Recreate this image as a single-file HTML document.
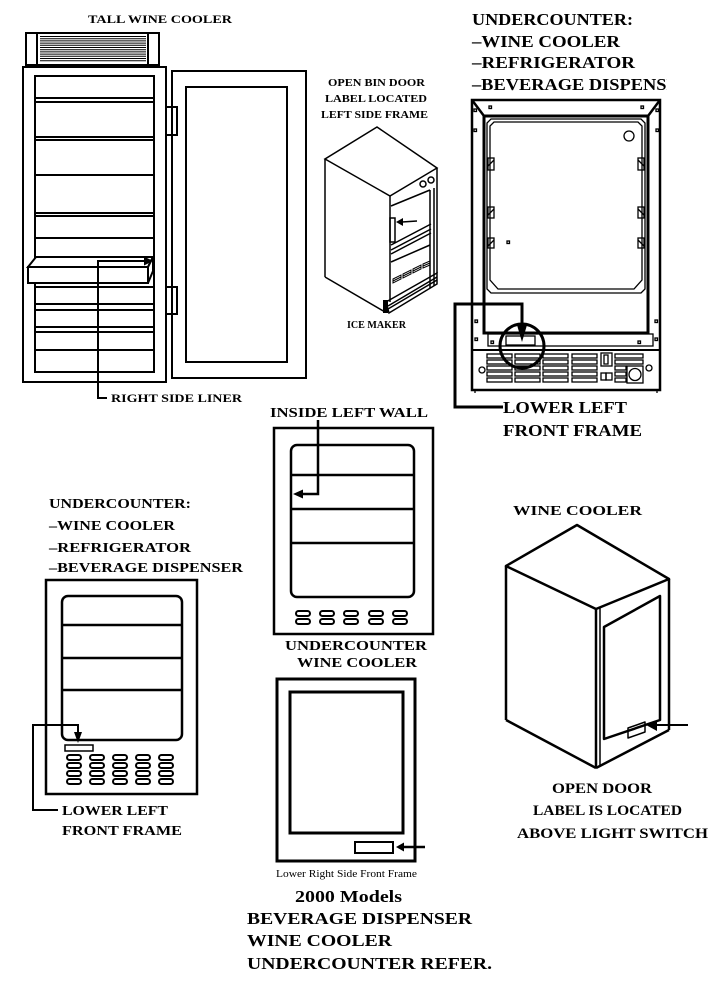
<!DOCTYPE html>
<html><head><meta charset="utf-8"><style>
html,body{margin:0;padding:0;background:#fff;}
svg{display:block;}
text{font-family:"Liberation Serif","DejaVu Serif",serif;font-weight:bold;fill:#000;}
</style></head><body>
<svg width="727" height="986" viewBox="0 0 727 986" xmlns="http://www.w3.org/2000/svg">
<defs><clipPath id="cr"><rect x="0" y="0" width="667" height="986"/></clipPath></defs>
<rect width="727" height="986" fill="#fff"/>
<g fill="none" stroke="#000" stroke-width="2">
<!-- TALL WINE COOLER -->
<rect x="26" y="33" width="133" height="32"/>
<line x1="37" y1="33" x2="37" y2="65"/><line x1="148" y1="33" x2="148" y2="65"/>
<g stroke-width="1">
<line x1="40" y1="36.5" x2="146" y2="36.5"/><line x1="40" y1="38.7" x2="146" y2="38.7"/><line x1="40" y1="40.9" x2="146" y2="40.9"/><line x1="40" y1="43.1" x2="146" y2="43.1"/><line x1="40" y1="45.3" x2="146" y2="45.3"/><line x1="40" y1="47.5" x2="146" y2="47.5"/><line x1="40" y1="49.7" x2="146" y2="49.7"/><line x1="40" y1="51.9" x2="146" y2="51.9"/><line x1="40" y1="54.1" x2="146" y2="54.1"/><line x1="40" y1="56.3" x2="146" y2="56.3"/><line x1="40" y1="58.5" x2="146" y2="58.5"/><line x1="40" y1="60.7" x2="146" y2="60.7"/>
</g>
<rect x="23" y="67" width="143" height="315"/>
<rect x="35" y="76" width="119" height="296"/>
<g>
<line x1="35" y1="98" x2="154" y2="98"/><line x1="35" y1="102" x2="154" y2="102"/>
<line x1="35" y1="137" x2="154" y2="137"/><line x1="35" y1="140" x2="154" y2="140"/>
<line x1="35" y1="175" x2="154" y2="175"/>
<line x1="35" y1="213" x2="154" y2="213"/><line x1="35" y1="216" x2="154" y2="216"/>
<line x1="35" y1="238" x2="154" y2="238"/>
<line x1="35" y1="287" x2="154" y2="287"/>
<line x1="35" y1="304" x2="154" y2="304"/><line x1="35" y1="310" x2="154" y2="310"/>
<line x1="35" y1="327" x2="154" y2="327"/><line x1="35" y1="332" x2="154" y2="332"/>
<line x1="35" y1="350" x2="154" y2="350"/>
</g>
<polygon points="28,267 148,267 148,283 28,283" fill="#fff"/>
<polygon points="28,267 36,257 153,257 148,267" fill="#fff"/>
<polygon points="148,267 153,257 153,271 148,283" fill="#fff"/>
<rect x="166" y="107" width="11" height="28" fill="#fff"/>
<rect x="166" y="287" width="11" height="27" fill="#fff"/>
<rect x="172" y="71" width="134" height="307"/>
<rect x="186" y="87" width="101" height="275"/>
<polyline points="107,398 98,398 98,261 145,261"/>
</g>
<polygon points="144,256.5 153,261 144,265.5" fill="#000"/>

<!-- ICE MAKER -->
<g fill="none" stroke="#000" stroke-width="1.5">
<polygon points="377,127 325,159 390,196 437,168"/>
<line x1="325" y1="159" x2="325" y2="277"/>
<line x1="325" y1="277" x2="385" y2="312"/>
<line x1="390" y1="196" x2="390" y2="302"/>
<line x1="437" y1="168" x2="437" y2="273"/>
<circle cx="423" cy="184" r="3"/><circle cx="431" cy="180" r="3"/>
<line x1="391" y1="206" x2="430" y2="190"/>
<line x1="430" y1="190" x2="430" y2="288"/><line x1="434" y1="188" x2="434" y2="286"/>
<rect x="390" y="218" width="5" height="24"/>
<line x1="417" y1="221" x2="402" y2="222"/>
<line x1="391" y1="245" x2="431" y2="224"/><line x1="391" y1="250" x2="431" y2="229"/><line x1="391" y1="254" x2="431" y2="233"/>
<line x1="391" y1="262" x2="430" y2="245"/>
<g stroke-width="1">
<polygon points="393,279 401,275 401,279 393,283"/>
<polygon points="403,274 411,270 411,274 403,278"/>
<polygon points="413,269 421,265 421,269 413,273"/>
<polygon points="423,264 430,261 430,265 423,268"/>
<line x1="393" y1="281" x2="401" y2="277"/><line x1="403" y1="276" x2="411" y2="272"/><line x1="413" y1="271" x2="421" y2="267"/><line x1="423" y1="266" x2="430" y2="263"/>
</g>
<polygon points="386,302 437,273 437,284 389,313"/>
<line x1="388" y1="306" x2="437" y2="277"/><line x1="388" y1="309" x2="437" y2="280"/>
</g>
<polygon points="403,218 396,222 403,226" fill="#000"/>
<rect x="383" y="300" width="5" height="13" fill="#000"/>

<!-- RIGHT UNDERCOUNTER -->
<g fill="none" stroke="#000" stroke-width="2.5">
<rect x="472" y="100" width="188" height="290"/>
<line x1="472" y1="100" x2="484" y2="116"/><line x1="660" y1="100" x2="648" y2="116"/>
<polygon points="484,333 484,116 648,116 648,333" stroke-width="3"/>
<line x1="472" y1="350" x2="660" y2="350" stroke-width="2"/>
</g>
<g fill="none" stroke="#000" stroke-width="1.3">
<polygon points="491,119 641,119 645,123 645,289 641,293 491,293 487,289 487,123"/>
<polygon points="494,122 638,122 642,126 642,280 634,289 498,289 490,280 490,126"/>
<rect x="488" y="158" width="6" height="12"/><line x1="488" y1="166" x2="494" y2="160"/>
<rect x="488" y="207" width="6" height="11"/><line x1="488" y1="215" x2="494" y2="209"/>
<rect x="488" y="238" width="6" height="10"/><line x1="488" y1="246" x2="494" y2="240"/>
<rect x="638" y="158" width="6" height="12"/><line x1="638" y1="160" x2="644" y2="166"/>
<rect x="638" y="207" width="6" height="11"/><line x1="638" y1="209" x2="644" y2="215"/>
<rect x="638" y="238" width="6" height="10"/><line x1="638" y1="240" x2="644" y2="246"/>
<circle cx="629" cy="136" r="5"/>
<rect x="489" y="106" width="2.5" height="2.5"/><rect x="641" y="106" width="2.5" height="2.5"/>
<rect x="474" y="109" width="2.5" height="2.5"/><rect x="474" y="129" width="2.5" height="2.5"/>
<rect x="656" y="109" width="2.5" height="2.5"/><rect x="656" y="129" width="2.5" height="2.5"/>
<rect x="507" y="241" width="2.5" height="2.5"/>
<rect x="475" y="320" width="2.5" height="2.5"/><rect x="475" y="338" width="2.5" height="2.5"/>
<rect x="655" y="320" width="2.5" height="2.5"/><rect x="655" y="338" width="2.5" height="2.5"/>
<rect x="491" y="341" width="2.5" height="2.5"/><rect x="638" y="341" width="2.5" height="2.5"/>
<rect x="488" y="334" width="165" height="12"/>
<rect x="506" y="336" width="29" height="9"/>
<g>
<rect x="487" y="354" width="25" height="4"/><rect x="487" y="360" width="25" height="4"/><rect x="487" y="366" width="25" height="4"/><rect x="487" y="372" width="25" height="4"/><rect x="487" y="378" width="25" height="4"/>
<rect x="515" y="354" width="25" height="4"/><rect x="515" y="360" width="25" height="4"/><rect x="515" y="366" width="25" height="4"/><rect x="515" y="372" width="25" height="4"/><rect x="515" y="378" width="25" height="4"/>
<rect x="543" y="354" width="25" height="4"/><rect x="543" y="360" width="25" height="4"/><rect x="543" y="366" width="25" height="4"/><rect x="543" y="372" width="25" height="4"/><rect x="543" y="378" width="25" height="4"/>
<rect x="572" y="354" width="25" height="4"/><rect x="572" y="360" width="25" height="4"/><rect x="572" y="366" width="25" height="4"/><rect x="572" y="372" width="25" height="4"/><rect x="572" y="378" width="25" height="4"/>
</g>
<rect x="601" y="353" width="11" height="13"/><path d="M604,355 L608,355 L608,364 L604,364 Z"/>
<rect x="601" y="373" width="5" height="7"/><rect x="606" y="373" width="6" height="7"/>
<rect x="615" y="354" width="28" height="4"/><rect x="615" y="360" width="28" height="4"/>
<rect x="615" y="366" width="11" height="4"/><rect x="615" y="372" width="11" height="4"/><rect x="615" y="378" width="11" height="4"/>
<rect x="627" y="366" width="16" height="17"/><circle cx="635" cy="374.5" r="6"/>
<circle cx="482" cy="370" r="3"/><circle cx="649" cy="368" r="3"/>
<line x1="475" y1="390" x2="475" y2="393"/><line x1="657" y1="390" x2="657" y2="393"/>
</g>
<circle cx="522" cy="346" r="22" fill="none" stroke="#000" stroke-width="3"/>
<polyline points="503,407 455,407 455,304 522,304 522,326" fill="none" stroke="#000" stroke-width="3"/>
<polygon points="517,325 527,325 522,342" fill="#000"/>

<!-- MIDDLE UNDERCOUNTER WINE COOLER -->
<g fill="none" stroke="#000" stroke-width="2.5">
<rect x="274" y="428" width="159" height="206"/>
<rect x="291" y="445" width="123" height="152" rx="6"/>
<line x1="291" y1="475" x2="414" y2="475"/><line x1="291" y1="509" x2="414" y2="509"/><line x1="291" y1="543" x2="414" y2="543"/>
<polyline points="318,420 318,494 302,494" stroke-width="2.5"/>
<g stroke-width="2">
<rect x="296" y="611" width="14" height="5" rx="2.5"/><rect x="296" y="619" width="14" height="5" rx="2.5"/>
<rect x="320" y="611" width="14" height="5" rx="2.5"/><rect x="320" y="619" width="14" height="5" rx="2.5"/>
<rect x="344" y="611" width="14" height="5" rx="2.5"/><rect x="344" y="619" width="14" height="5" rx="2.5"/>
<rect x="369" y="611" width="14" height="5" rx="2.5"/><rect x="369" y="619" width="14" height="5" rx="2.5"/>
<rect x="393" y="611" width="14" height="5" rx="2.5"/><rect x="393" y="619" width="14" height="5" rx="2.5"/>
</g>
</g>
<polygon points="303,489.5 293,494 303,498.5" fill="#000"/>

<!-- LEFT BOTTOM UNDERCOUNTER -->
<g fill="none" stroke="#000" stroke-width="2.5">
<rect x="46" y="580" width="151" height="214"/>
<rect x="62" y="596" width="120" height="144" rx="6"/>
<line x1="62" y1="625" x2="182" y2="625"/><line x1="62" y1="658" x2="182" y2="658"/><line x1="62" y1="690" x2="182" y2="690"/>
<rect x="65" y="745" width="28" height="6" stroke-width="1.5"/>
<polyline points="58,810 33,810 33,725 78,725 78,733" stroke-width="2"/>
<g stroke-width="2">
<rect x="67" y="755" width="14" height="5" rx="2.5"/><rect x="67" y="763" width="14" height="5" rx="2.5"/><rect x="67" y="771" width="14" height="5" rx="2.5"/><rect x="67" y="779" width="14" height="5" rx="2.5"/>
<rect x="90" y="755" width="14" height="5" rx="2.5"/><rect x="90" y="763" width="14" height="5" rx="2.5"/><rect x="90" y="771" width="14" height="5" rx="2.5"/><rect x="90" y="779" width="14" height="5" rx="2.5"/>
<rect x="113" y="755" width="14" height="5" rx="2.5"/><rect x="113" y="763" width="14" height="5" rx="2.5"/><rect x="113" y="771" width="14" height="5" rx="2.5"/><rect x="113" y="779" width="14" height="5" rx="2.5"/>
<rect x="136" y="755" width="14" height="5" rx="2.5"/><rect x="136" y="763" width="14" height="5" rx="2.5"/><rect x="136" y="771" width="14" height="5" rx="2.5"/><rect x="136" y="779" width="14" height="5" rx="2.5"/>
<rect x="159" y="755" width="14" height="5" rx="2.5"/><rect x="159" y="763" width="14" height="5" rx="2.5"/><rect x="159" y="771" width="14" height="5" rx="2.5"/><rect x="159" y="779" width="14" height="5" rx="2.5"/>
</g>
</g>
<polygon points="74,732 82,732 78,743" fill="#000"/>

<!-- WINE COOLER ISO -->
<g fill="none" stroke="#000" stroke-width="2.5" stroke-linejoin="round">
<polygon points="577,525 506,566 596,609 669,579"/>
<line x1="506" y1="566" x2="506" y2="720"/>
<line x1="506" y1="720" x2="596" y2="768"/>
<line x1="596" y1="609" x2="596" y2="768"/>
<line x1="600" y1="608" x2="600" y2="766" stroke-width="1.5"/>
<line x1="669" y1="579" x2="669" y2="730"/>
<line x1="596" y1="768" x2="669" y2="730"/>
<polygon points="604,627 660,596 660,720 604,739"/>
<polygon points="628,728 645,722 645,732 628,738" stroke-width="1.5"/>
<line x1="688" y1="725" x2="656" y2="725" stroke-width="2"/>
</g>
<polygon points="657,720 647,725.5 657,731" fill="#000"/>

<!-- BOTTOM CENTER 2000 MODELS -->
<g fill="none" stroke="#000" stroke-width="3">
<rect x="277" y="679" width="138" height="182"/>
<rect x="290" y="692" width="113" height="141"/>
<rect x="355" y="842" width="38" height="11" stroke-width="2"/>
<line x1="425" y1="847" x2="403" y2="847" stroke-width="2.5"/>
</g>
<polygon points="404,842.5 396,847 404,851.5" fill="#000"/>

<!-- TEXT -->
<text x="88" y="23" font-size="12" textLength="144" lengthAdjust="spacingAndGlyphs">TALL WINE COOLER</text>
<text x="111" y="402" font-size="12" textLength="131" lengthAdjust="spacingAndGlyphs">RIGHT SIDE LINER</text>
<text x="328" y="86" font-size="11" textLength="97" lengthAdjust="spacingAndGlyphs">OPEN BIN DOOR</text>
<text x="325" y="102" font-size="11" textLength="102" lengthAdjust="spacingAndGlyphs">LABEL LOCATED</text>
<text x="321" y="118" font-size="11" textLength="107" lengthAdjust="spacingAndGlyphs">LEFT SIDE FRAME</text>
<text x="347" y="328" font-size="11" textLength="59" lengthAdjust="spacingAndGlyphs">ICE MAKER</text>

<text x="472" y="25" font-size="17" textLength="161" lengthAdjust="spacingAndGlyphs">UNDERCOUNTER:</text>
<text x="472" y="47" font-size="17" textLength="148" lengthAdjust="spacingAndGlyphs">–WINE COOLER</text>
<text x="472" y="68" font-size="17" textLength="163" lengthAdjust="spacingAndGlyphs">–REFRIGERATOR</text>
<text x="472" y="90" font-size="17" textLength="220" lengthAdjust="spacingAndGlyphs" clip-path="url(#cr)">–BEVERAGE DISPENSER</text>
<text x="503" y="413" font-size="17" textLength="124" lengthAdjust="spacingAndGlyphs">LOWER LEFT</text>
<text x="503" y="436" font-size="17" textLength="139" lengthAdjust="spacingAndGlyphs">FRONT FRAME</text>

<text x="270" y="417" font-size="14" textLength="158" lengthAdjust="spacingAndGlyphs">INSIDE LEFT WALL</text>
<text x="285" y="650" font-size="14" textLength="142" lengthAdjust="spacingAndGlyphs">UNDERCOUNTER</text>
<text x="297" y="667" font-size="14" textLength="120" lengthAdjust="spacingAndGlyphs">WINE COOLER</text>

<text x="49" y="508" font-size="14" textLength="142" lengthAdjust="spacingAndGlyphs">UNDERCOUNTER:</text>
<text x="49" y="530" font-size="14" textLength="126" lengthAdjust="spacingAndGlyphs">–WINE COOLER</text>
<text x="49" y="552" font-size="14" textLength="142" lengthAdjust="spacingAndGlyphs">–REFRIGERATOR</text>
<text x="49" y="572" font-size="14" textLength="194" lengthAdjust="spacingAndGlyphs">–BEVERAGE DISPENSER</text>
<text x="62" y="815" font-size="14" textLength="106" lengthAdjust="spacingAndGlyphs">LOWER LEFT</text>
<text x="62" y="835" font-size="14" textLength="120" lengthAdjust="spacingAndGlyphs">FRONT FRAME</text>

<text x="513" y="515" font-size="14" textLength="129" lengthAdjust="spacingAndGlyphs">WINE COOLER</text>
<text x="552" y="793" font-size="15" textLength="100" lengthAdjust="spacingAndGlyphs">OPEN DOOR</text>
<text x="533" y="815" font-size="15" textLength="149" lengthAdjust="spacingAndGlyphs">LABEL IS LOCATED</text>
<text x="517" y="838" font-size="15" textLength="191" lengthAdjust="spacingAndGlyphs">ABOVE LIGHT SWITCH</text>

<text x="276" y="877" font-size="10" style="font-weight:normal" textLength="141" lengthAdjust="spacingAndGlyphs">Lower Right Side Front Frame</text>
<text x="295" y="902" font-size="17" textLength="107" lengthAdjust="spacingAndGlyphs">2000 Models</text>
<text x="247" y="924" font-size="17" textLength="225" lengthAdjust="spacingAndGlyphs">BEVERAGE DISPENSER</text>
<text x="247" y="946" font-size="17" textLength="145" lengthAdjust="spacingAndGlyphs">WINE COOLER</text>
<text x="247" y="969" font-size="17" textLength="245" lengthAdjust="spacingAndGlyphs">UNDERCOUNTER REFER.</text>
</svg>
</body></html>
